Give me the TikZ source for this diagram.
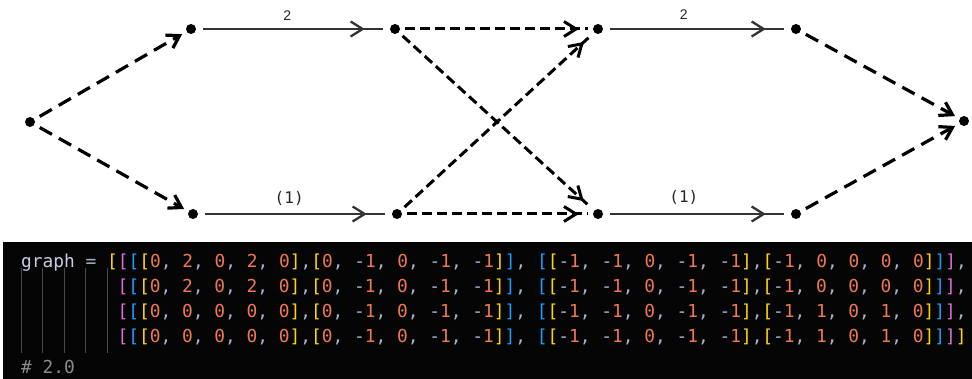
\documentclass[tikz,border=0pt]{standalone}
\usepackage{fontspec}
\usepackage{tikz}
\usetikzlibrary{positioning,arrows.meta,decorations.markings}

\newfontfamily\codefont{DejaVu Sans Mono}
\newfontfamily\labfont{Liberation Sans}

\definecolor{codebg}{HTML}{050505}
\definecolor{brgold}{HTML}{FFD700}
\definecolor{brpink}{HTML}{DA70D6}
\definecolor{brblue}{HTML}{179FFF}
\definecolor{numcol}{HTML}{F07850}
\definecolor{punct}{HTML}{A8B4CC}
\definecolor{varcol}{HTML}{C8CCE4}
\definecolor{guide}{HTML}{4A4A4A}
\definecolor{cmtcol}{HTML}{8C8C8C}
\definecolor{edgecol}{HTML}{333333}

% bracket colours by depth
\newcommand{\bY}[1]{\textcolor{brgold}{#1}}
\newcommand{\bP}[1]{\textcolor{brpink}{#1}}
\newcommand{\bB}[1]{\textcolor{brblue}{#1}}
% values
\newcommand{\vz}{\textcolor{numcol}{0}}
\newcommand{\vo}{\textcolor{numcol}{1}}
\newcommand{\vt}{\textcolor{numcol}{2}}
\newcommand{\vm}{\textcolor{punct}{-}\textcolor{numcol}{1}}
\newcommand{\cma}{\textcolor{punct}{,}}
\newcommand{\cells}[5]{#1\cma\ #2\cma\ #3\cma\ #4\cma\ #5}
\newcommand{\gline}[2]{\bP{[}\bB{[}\bY{[}\cells#1\bY{]}\cma\bY{[}\cells{\vz}{\vm}{\vz}{\vm}{\vm}\bY{]}\bB{]}\cma\ \bB{[}\bY{[}\cells{\vm}{\vm}{\vz}{\vm}{\vm}\bY{]}\cma\bY{[}\cells#2\bY{]}\bB{]}\bP{]}}

\begin{document}
\begin{tikzpicture}[x=1pt,y=-1pt,on grid,
    >={Straight Barb[length=12pt,width=15pt]},
    dot/.style={circle,fill=black,inner sep=0pt,minimum size=10pt},
    longdash/.style={draw=black,line width=3.2pt,dash pattern=on 14pt off 8pt,shorten <=6pt,shorten >=5pt,->},
    shortdash/.style={draw=black,line width=3pt,dash pattern=on 10pt off 5pt,shorten <=5pt,shorten >=5pt,
        postaction={decorate},decoration={markings,mark=at position -14pt with {\arrow{>}}}},
    flow/.style={draw=edgecol,line width=2.3pt,shorten <=7pt,shorten >=7pt,
        postaction={decorate},decoration={markings,mark=at position -25pt with {\arrow{>}}}},
    wlabel/.style={inner sep=0pt,text=black!85},
    code/.style={inner sep=0pt,anchor=base west,font=\codefont\fontsize{17.85}{20}\selectfont}]
    \fill[white] (0,0) rectangle (972,379);
    \useasboundingbox (0,0) rectangle (972,379);

    % network
    \node[dot] (src) at (30,122) {};
    \node[dot] (u_1) at (191,29) {};
    \node[dot] (u_2) [right=204pt of u_1] {};
    \node[dot] (u_3) [right=203pt of u_2] {};
    \node[dot] (u_4) [right=198pt of u_3] {};
    \node[dot] (l_1) at (193,214) {};
    \node[dot] (l_2) [right=204pt of l_1] {};
    \node[dot] (l_3) [right=201pt of l_2] {};
    \node[dot] (l_4) [right=198pt of l_3] {};
    \node[dot] (snk) at (964,121) {};

    \path
    (src) edge[longdash] (u_1)
          edge[longdash] (l_1)
    (u_1) edge[flow] node[wlabel,pos=0.47,above=7pt,font=\labfont\fontsize{14}{16}\selectfont] {2} (u_2)
    (l_1) edge[flow] node[wlabel,pos=0.47,above=7pt,font=\codefont\fontsize{16}{18}\selectfont] {(1)} (l_2)
    (u_2) edge[shortdash] (u_3)
          edge[shortdash] (l_3)
    (l_2) edge[shortdash] (u_3)
          edge[shortdash] (l_3)
    (u_3) edge[flow] node[wlabel,pos=0.43,above=8pt,font=\labfont\fontsize{14}{16}\selectfont] {2} (u_4)
    (l_3) edge[flow] node[wlabel,pos=0.43,above=8pt,font=\codefont\fontsize{16}{18}\selectfont] {(1)} (l_4)
    (u_4) edge[longdash] (snk)
    (l_4) edge[longdash] (snk);

    % code panel
    \fill[codebg] (3,242) rectangle (972,379);
    \foreach \gx in {21,42.5,64,85.5,107}
        \draw[guide,line width=0.8pt] (\gx,268) -- (\gx,353);
    \node[code] (ln_1) at (21,267.5) {\textcolor{varcol}{graph} \textcolor{punct}{=} \bY{[}\gline{{\vz}{\vt}{\vz}{\vt}{\vz}}{{\vm}{\vz}{\vz}{\vz}{\vz}}\cma};
    \node[code] (ln_2) at (117.5,292.5) {\gline{{\vz}{\vt}{\vz}{\vt}{\vz}}{{\vm}{\vz}{\vz}{\vz}{\vz}}\cma};
    \node[code] (ln_3) at (117.5,317.5) {\gline{{\vz}{\vz}{\vz}{\vz}{\vz}}{{\vm}{\vo}{\vz}{\vo}{\vz}}\cma};
    \node[code] (ln_4) at (117.5,342.5) {\gline{{\vz}{\vz}{\vz}{\vz}{\vz}}{{\vm}{\vo}{\vz}{\vo}{\vz}}\bY{]}};
    \node[code,text=cmtcol] (out) at (21,373.5) {\# 2.0};
\end{tikzpicture}
\end{document}
